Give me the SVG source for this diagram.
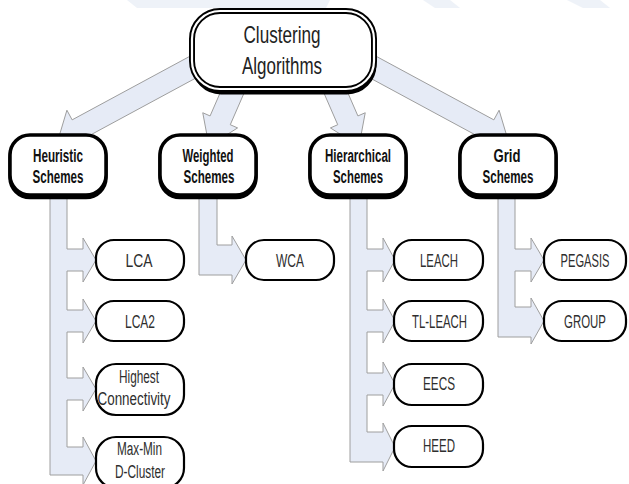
<svg xmlns="http://www.w3.org/2000/svg" width="629" height="484" viewBox="0 0 629 484">
  <style>
    .bg { fill: #ffffff; }
    .wm { fill: #eef2f8; }
    .conn { fill: #e6ebf6; stroke: #9e9e9e; stroke-width: 1; stroke-linejoin: miter; }
    .topbox { fill: #ffffff; stroke: #000000; stroke-width: 6; }
    .topinner { fill: none; stroke: #ffffff; stroke-width: 2.2; }
    .shadow { fill: #000000; stroke: #000000; }
    .midbox { fill: #ffffff; stroke: #000000; stroke-width: 3.5; }
    .leaf { fill: #ffffff; stroke: #000000; stroke-width: 2.2; }
    .ttop { font-family: "Liberation Sans", Arial, sans-serif; font-size: 24px; fill: #222222; text-anchor: middle; }
    .tmid { font-family: "Liberation Sans", Arial, sans-serif; font-size: 18px; font-weight: bold; fill: #111111; text-anchor: middle; }
    .tleaf { font-family: "Liberation Sans", Arial, sans-serif; font-size: 18px; fill: #2e2e2e; text-anchor: middle; }
  </style>
  <rect class="bg" x="0" y="0" width="629" height="484"/>
  <g id="watermark">
    <polygon class="wm" points="127,0 330,0 326,8 137,8"/>
    <polygon class="wm" points="423,0 450,0 460,8 435,8"/>
    <polygon class="wm" points="567,0 600,0 610,8 583,8"/>
  </g>
  <g id="connectors">
    <polygon class="conn" points="189.77,56.32 72.13,119.87 66.91,110.19 58,140 87.81,148.91 82.59,139.23 200.23,75.68"/>
    <polygon class="conn" points="225.91,79.61 210.09,115.94 202.76,112.74 209,146 237.60,127.92 230.27,124.72 246.09,88.39"/>
    <polygon class="conn" points="342.09,79.61 357.91,115.94 365.24,112.74 359,146 330.40,127.92 337.73,124.72 321.91,88.39"/>
    <polygon class="conn" points="376.23,56.32 493.87,119.87 499.09,110.19 508,140 478.19,148.91 483.41,139.23 365.77,75.68"/>
    <path class="conn" d="M50,190 L67,190 L67,249 L83,249 L83,238 L96,260 L83,282 L83,271 L67,271 L67,310 L83,310 L83,299 L96,321 L83,343 L83,332 L67,332 L67,378 L83,378 L83,367 L96,389 L83,411 L83,400 L67,400 L67,447 L83,447 L83,437 L96,461 L83,485 L83,475 L50,475 Z"/>
    <path class="conn" d="M199,190 L217,190 L217,245 L232,245 L232,236 L246,260 L232,284 L232,275 L199,275 Z"/>
    <path class="conn" d="M350,190 L367,190 L367,249 L383,249 L383,238 L395,260 L383,282 L383,271 L367,271 L367,310 L383,310 L383,299 L395,321 L383,343 L383,332 L367,332 L367,373 L383,373 L383,362 L395,384 L383,406 L383,395 L367,395 L367,432 L383,432 L383,423 L395,447 L383,471 L383,462 L350,462 Z"/>
    <path class="conn" d="M498,190 L515,190 L515,249 L531,249 L531,238 L544,260 L531,282 L531,271 L515,271 L515,307 L531,307 L531,298 L544,321 L531,344 L531,337 L498,337 Z"/>
  </g>
  <g id="clustering-algorithms">
    <rect class="shadow" x="193" y="13" width="182" height="80" rx="28" stroke-width="3"/>
    <rect class="topbox" x="192" y="11" width="182" height="78" rx="28"/>
    <rect class="topinner" x="192" y="11" width="182" height="78" rx="28"/>
    <text class="ttop" x="282" y="43" textLength="77" lengthAdjust="spacingAndGlyphs">Clustering</text>
    <text class="ttop" x="282" y="74" textLength="80" lengthAdjust="spacingAndGlyphs">Algorithms</text>
  </g>
  <g id="heuristic-schemes">
    <rect class="shadow" x="10" y="137.5" width="96" height="60" rx="20" stroke-width="3.5"/>
    <rect class="midbox" x="10" y="135" width="96" height="60" rx="20"/>
    <text class="tmid" x="58" y="162" textLength="50" lengthAdjust="spacingAndGlyphs">Heuristic</text>
    <text class="tmid" x="58" y="183" textLength="51" lengthAdjust="spacingAndGlyphs">Schemes</text>
  </g>
  <g id="weighted-schemes">
    <rect class="shadow" x="160" y="137.5" width="96" height="60" rx="20" stroke-width="3.5"/>
    <rect class="midbox" x="160" y="135" width="96" height="60" rx="20"/>
    <text class="tmid" x="208" y="162" textLength="51" lengthAdjust="spacingAndGlyphs">Weighted</text>
    <text class="tmid" x="209" y="183" textLength="51" lengthAdjust="spacingAndGlyphs">Schemes</text>
  </g>
  <g id="hierarchical-schemes">
    <rect class="shadow" x="310" y="137.5" width="96" height="60" rx="20" stroke-width="3.5"/>
    <rect class="midbox" x="310" y="135" width="96" height="60" rx="20"/>
    <text class="tmid" x="358" y="162" textLength="66" lengthAdjust="spacingAndGlyphs">Hierarchical</text>
    <text class="tmid" x="358" y="183" textLength="50" lengthAdjust="spacingAndGlyphs">Schemes</text>
  </g>
  <g id="grid-schemes">
    <rect class="shadow" x="460" y="137.5" width="96" height="60" rx="20" stroke-width="3.5"/>
    <rect class="midbox" x="460" y="135" width="96" height="60" rx="20"/>
    <text class="tmid" x="507" y="162" textLength="27" lengthAdjust="spacingAndGlyphs">Grid</text>
    <text class="tmid" x="508" y="183" textLength="51" lengthAdjust="spacingAndGlyphs">Schemes</text>
  </g>
  <g id="lca">
    <rect class="leaf" x="96" y="240" width="88" height="40" rx="18"/>
    <text class="tleaf" x="139" y="267" textLength="27" lengthAdjust="spacingAndGlyphs">LCA</text>
  </g>
  <g id="lca2">
    <rect class="leaf" x="96" y="301" width="88" height="40" rx="18"/>
    <text class="tleaf" x="140" y="328" textLength="30" lengthAdjust="spacingAndGlyphs">LCA2</text>
  </g>
  <g id="highest-connectivity">
    <rect class="leaf" x="96" y="364" width="88" height="51" rx="20"/>
    <text class="tleaf" x="139" y="383" textLength="40" lengthAdjust="spacingAndGlyphs">Highest</text>
    <text class="tleaf" x="134" y="405" textLength="73" lengthAdjust="spacingAndGlyphs">Connectivity</text>
  </g>
  <g id="max-min-d-cluster">
    <rect class="leaf" x="96" y="437" width="88" height="51" rx="20"/>
    <text class="tleaf" x="139.5" y="455" textLength="45" lengthAdjust="spacingAndGlyphs">Max-Min</text>
    <text class="tleaf" x="140" y="478" textLength="50" lengthAdjust="spacingAndGlyphs">D-Cluster</text>
  </g>
  <g id="wca">
    <rect class="leaf" x="246" y="240" width="88" height="40" rx="18"/>
    <text class="tleaf" x="290" y="267" textLength="28" lengthAdjust="spacingAndGlyphs">WCA</text>
  </g>
  <g id="leach">
    <rect class="leaf" x="394" y="240" width="89" height="40" rx="18"/>
    <text class="tleaf" x="439" y="267" textLength="38" lengthAdjust="spacingAndGlyphs">LEACH</text>
  </g>
  <g id="tl-leach">
    <rect class="leaf" x="394" y="301" width="89" height="40" rx="18"/>
    <text class="tleaf" x="439.5" y="328" textLength="55" lengthAdjust="spacingAndGlyphs">TL-LEACH</text>
  </g>
  <g id="eecs">
    <rect class="leaf" x="394" y="364" width="89" height="41" rx="18"/>
    <text class="tleaf" x="439" y="390" textLength="32" lengthAdjust="spacingAndGlyphs">EECS</text>
  </g>
  <g id="heed">
    <rect class="leaf" x="394" y="426" width="89" height="41" rx="18"/>
    <text class="tleaf" x="439" y="452" textLength="32" lengthAdjust="spacingAndGlyphs">HEED</text>
  </g>
  <g id="pegasis">
    <rect class="leaf" x="544" y="240" width="82" height="40" rx="18"/>
    <text class="tleaf" transform="translate(585,267) scale(0.62,1)" x="0" y="0" font-size="17">PEGASIS</text>
  </g>
  <g id="group">
    <rect class="leaf" x="544" y="301" width="82" height="40" rx="18"/>
    <text class="tleaf" x="585" y="328" font-size="17" textLength="42" lengthAdjust="spacingAndGlyphs">GROUP</text>
  </g>
</svg>
